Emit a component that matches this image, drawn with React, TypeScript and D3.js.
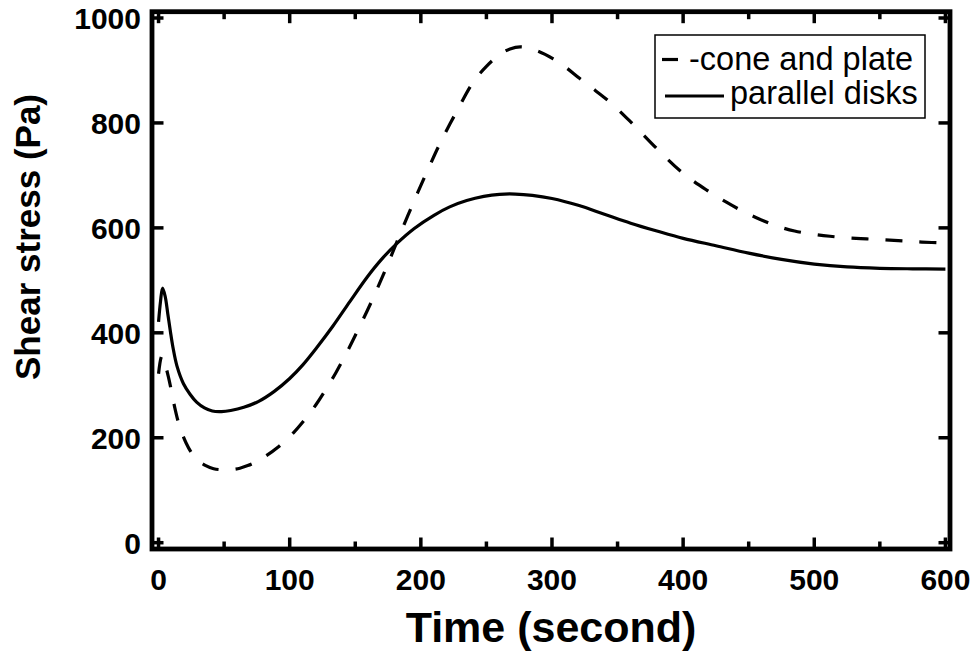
import React from "react";
import * as d3 from "d3";

const timeParallel = [0, 1.5, 3, 5, 7, 9, 11, 14, 19, 24, 29, 35, 41, 48, 55, 65, 76, 88, 100, 110, 121, 133, 146, 159, 170, 182, 195, 210, 222, 235, 248, 260, 272, 285, 300, 320, 340, 360, 380, 400, 425, 450, 475, 500, 525, 550, 575, 600];
const stressParallel = [421, 460, 485, 470, 437, 403, 372, 337, 303, 283, 268, 257, 251, 250, 252, 258, 269, 288, 313, 339, 373, 413, 460, 506, 540, 571, 599, 624, 640, 652, 660, 664, 664.5, 662, 656, 643, 626, 609, 594, 580, 566, 552, 540, 531, 525.5, 523, 522, 521.5];

const timeCone = [0, 2.5, 5, 7.5, 10, 12.5, 16, 21, 26, 30, 36, 42, 49, 56, 62, 68, 75, 81, 91, 103, 110, 120, 127, 135, 143, 151, 163, 174, 184, 196, 207, 215, 228, 240, 250, 260, 268, 276, 288, 301, 311, 321, 333, 344, 360, 382, 400, 418, 433, 446, 458, 471, 485, 499, 512, 526, 540, 554, 568, 582, 600];
const stressCone = [322, 356, 340, 316, 287, 256, 222, 190, 168, 157, 147, 141, 139, 139.5, 142, 147, 155, 164, 182, 210, 230, 263, 290, 323, 360, 400, 463, 526, 587, 658, 720, 763, 825, 878, 908, 930, 941, 945, 938, 922, 905, 885, 862, 840, 802, 746, 704, 672, 649, 631, 617, 604, 594, 588, 584, 581, 579, 577, 575, 573, 571];

const xMajorTicks = [0, 100, 200, 300, 400, 500, 600];
const xMinorTicks = [50, 150, 250, 350, 450, 550];
const yTicks = [0, 200, 400, 600, 800, 1000];

const seriesNames = ["-cone and plate", "parallel disks"];
const xTitle = "Time (second)";
const yTitle = "Shear stress (Pa)";

const FONT = "'Liberation Sans', Arial, Helvetica, sans-serif";

export default function App() {
  const left = 152, right = 950, top = 11.7, bottom = 549;
  const x = d3.scaleLinear().domain([-5, 603.5]).range([left, right]);
  const y = d3.scaleLinear().domain([-12, 1012]).range([bottom, top]);

  const line = d3
    .line<[number, number]>()
    .x((d) => x(d[0]))
    .y((d) => y(d[1]))
    .curve(d3.curveCatmullRom.alpha(0.5));

  const parallelPath = line(timeParallel.map((t, i) => [t, stressParallel[i]]));
  const conePath = line(timeCone.map((t, i) => [t, stressCone[i]]));

  const tickW = 3.5;
  const majorLen = 11.5;
  const minorLen = 7.5;

  return (
    <div style={{ position: "absolute", left: 0, top: 0 }}>
      <svg width={978} height={657} style={{ display: "block", background: "#fff" }}>
        <rect x={0} y={0} width={978} height={657} fill="#fff" />
        <defs>
          <clipPath id="plotClip">
            <rect x={left} y={top} width={right - left} height={bottom - top} />
          </clipPath>
        </defs>

        {/* curves */}
        <g clipPath="url(#plotClip)" fill="none" stroke="#000" strokeLinejoin="round">
          <path d={conePath || ""} strokeWidth={3.2} strokeDasharray="17,17" />
          <path d={parallelPath || ""} strokeWidth={3.2} />
        </g>

        {/* ticks */}
        <g stroke="#000" strokeWidth={tickW}>
          {xMajorTicks.map((t) => (
            <g key={"xM" + t}>
              <line x1={x(t)} x2={x(t)} y1={bottom} y2={bottom - majorLen} />
              <line x1={x(t)} x2={x(t)} y1={top} y2={top + majorLen} />
            </g>
          ))}
          {xMinorTicks.map((t) => (
            <g key={"xm" + t}>
              <line x1={x(t)} x2={x(t)} y1={bottom} y2={bottom - minorLen} />
              <line x1={x(t)} x2={x(t)} y1={top} y2={top + minorLen} />
            </g>
          ))}
          {yTicks.map((v) => (
            <g key={"y" + v}>
              <line x1={left} x2={left + majorLen} y1={y(v)} y2={y(v)} />
              <line x1={right} x2={right - majorLen} y1={y(v)} y2={y(v)} />
            </g>
          ))}
        </g>

        {/* frame */}
        <rect x={left} y={top} width={right - left} height={bottom - top} fill="none" stroke="#000" strokeWidth={4.8} />

        {/* tick labels */}
        <g fontFamily={FONT} fontWeight="bold" fontSize={30} fill="#000">
          {xMajorTicks.map((t) => (
            <text key={"xl" + t} x={x(t)} y={590} textAnchor="middle">
              {t}
            </text>
          ))}
          {yTicks.map((v) => (
            <text key={"yl" + v} x={141} y={y(v) + 11} textAnchor="end">
              {v}
            </text>
          ))}
        </g>

        {/* axis titles */}
        <text x={551} y={642} textAnchor="middle" fontFamily={FONT} fontWeight="bold" fontSize={43} fill="#000">
          {xTitle}
        </text>
        <text
          transform="translate(40,237) rotate(-90)"
          textAnchor="middle"
          fontFamily={FONT}
          fontWeight="bold"
          fontSize={35}
          fill="#000"
        >
          {yTitle}
        </text>

        {/* legend */}
        <g>
          <rect x={655} y={35} width={270} height={83} fill="#fff" stroke="#000" strokeWidth={1.5} />
          <line x1={662} x2={678} y1={59.5} y2={59.5} stroke="#000" strokeWidth={3.2} />
          <text x={689} y={69.5} fontFamily={FONT} fontSize={32.5} fill="#000">
            {seriesNames[0]}
          </text>
          <line x1={665} x2={724} y1={96} y2={96} stroke="#000" strokeWidth={3.2} />
          <text x={730} y={104} fontFamily={FONT} fontSize={32.5} fill="#000">
            {seriesNames[1]}
          </text>
        </g>
      </svg>
    </div>
  );
}
